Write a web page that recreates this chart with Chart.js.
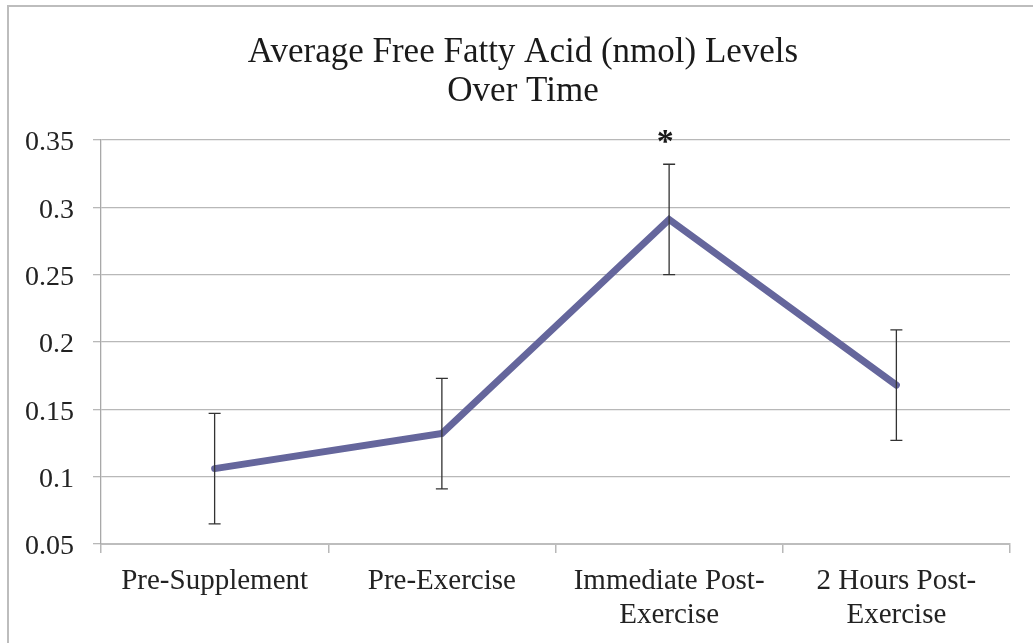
<!DOCTYPE html>
<html>
<head>
<meta charset="utf-8">
<script src="https://cdn.jsdelivr.net/npm/chart.js@4.4.1/dist/chart.umd.min.js"></script>
<style>
    body { margin: 0; background: #fff; }
    #wrap { width: 1033px; height: 643px; }
</style>
</head>
<body>
<div id="wrap"><canvas id="ffa-chart" width="1033" height="643"></canvas></div>
<script>
// 資料
let categories = ["Pre-Supplement", "Pre-Exercise", ["Immediate Post-", "Exercise"], ["2 Hours Post-", "Exercise"]];
let ffaMeans = [0.106, 0.132, 0.291, 0.168];
let ffaErrors = [0.041, 0.041, 0.041, 0.041];
let yTicks = [0.05, 0.1, 0.15, 0.2, 0.25, 0.3, 0.35];
let titleLines = ["Average Free Fatty Acid (nmol) Levels", "Over Time"];
let starIndex = 2;

const serif = "'Liberation Serif', 'Times New Roman', serif";

// 外框 + 白底
let framePlugin = {
    id: 'frame',
    beforeDraw: (chart) => {
        let ctx = chart.ctx;
        ctx.save();
        ctx.fillStyle = '#fff';
        ctx.fillRect(0, 0, chart.width, chart.height);
        ctx.strokeStyle = '#bdbdbd';
        ctx.lineWidth = 2;
        ctx.beginPath();
        ctx.moveTo(8, chart.height);
        ctx.lineTo(8, 6);
        ctx.lineTo(chart.width, 6);
        ctx.stroke();
        ctx.restore();
    }
};

// 誤差線 + 星號 + 標題
let errorBarPlugin = {
    id: 'errorBars',
    afterDatasetsDraw: (chart) => {
        let ctx = chart.ctx;
        let x = chart.scales.x;
        let y = chart.scales.y;
        ctx.save();
        ctx.strokeStyle = '#333';
        ctx.lineWidth = 1.3;
        ffaMeans.forEach((v, i) => {
            let px = x.getPixelForValue(i);
            let top = y.getPixelForValue(v + ffaErrors[i]);
            let bot = y.getPixelForValue(v - ffaErrors[i]);
            ctx.beginPath();
            ctx.moveTo(px, top); ctx.lineTo(px, bot);
            ctx.moveTo(px - 6, top); ctx.lineTo(px + 6, top);
            ctx.moveTo(px - 6, bot); ctx.lineTo(px + 6, bot);
            ctx.stroke();
        });

        // 顯著差異
        let sx = x.getPixelForValue(starIndex) - 4;
        let sy = y.getPixelForValue(ffaMeans[starIndex] + ffaErrors[starIndex]);
        ctx.fillStyle = '#1a1a1a';
        ctx.font = `bold 34px ${serif}`;
        ctx.textAlign = 'center';
        ctx.textBaseline = 'alphabetic';
        ctx.fillText('*', sx, sy - 12);

        ctx.font = `35px ${serif}`;
        ctx.fillText(titleLines[0], 523, 62);
        ctx.fillText(titleLines[1], 523, 101);
        ctx.restore();
    }
};

new Chart(
    document.getElementById('ffa-chart'),
    {
        type: 'line',
        data: {
            labels: categories,
            datasets: [
                {
                    label: 'FFA',
                    data: ffaMeans,
                    borderColor: '#65669c',
                    borderWidth: 7,
                    borderCapStyle: 'round',
                    borderJoinStyle: 'miter',
                    pointRadius: 0,
                    tension: 0,
                    fill: false
                }]
        },
        options: {
            responsive: false,
            animation: false,
            layout: { padding: { left: 0, top: 140, right: 23, bottom: 0 } },
            plugins: {
                legend: { display: false },
                title: { display: false },
                tooltip: { enabled: false }
            },
            scales: {
                x: {
                    offset: true,
                    afterFit: (scale) => { scale.height = 99; },
                    grid: {
                        offset: true,
                        drawOnChartArea: false,
                        drawTicks: true,
                        tickLength: 9,
                        color: '#b8b8b8',
                        lineWidth: 1.5
                    },
                    border: { display: true, color: '#bdbdbd', width: 2 },
                    ticks: {
                        color: '#222',
                        padding: 12,
                        maxRotation: 0,
                        autoSkip: false,
                        font: { family: serif, size: 29, lineHeight: 1.15 }
                    }
                },
                y: {
                    min: 0.05,
                    max: 0.35,
                    afterFit: (scale) => { scale.width = 101; },
                    afterBuildTicks: (scale) => {
                        scale.ticks = yTicks.map(v => ({ value: v }));
                    },
                    grid: {
                        color: '#b8b8b8',
                        lineWidth: 1.3,
                        drawTicks: true,
                        tickLength: 8
                    },
                    border: { display: true, color: '#a8a8a8', width: 1.3 },
                    ticks: {
                        color: '#222',
                        padding: 19,
                        labelOffset: 3,
                        callback: (v) => String(Math.round(v * 100) / 100),
                        font: { family: serif, size: 28 }
                    }
                }
            }
        },
        plugins: [framePlugin, errorBarPlugin]
    }
);
</script>
</body>
</html>
